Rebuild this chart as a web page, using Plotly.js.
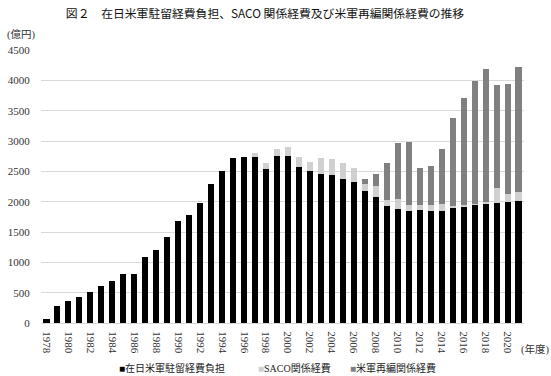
<!DOCTYPE html>
<html>
<head>
<meta charset="utf-8">
<script src="https://cdn.plot.ly/plotly-3.0.1.min.js"></script>
<style>html,body{margin:0;padding:0;background:#fff;}#chart{width:551px;height:376px;}</style>
</head>
<body>
<div id="chart"></div>
<script>
// Data (億円), fiscal years 1978–2021
const years = [1978,1979,1980,1981,1982,1983,1984,1985,1986,1987,1988,1989,1990,1991,1992,1993,1994,1995,1996,1997,1998,1999,2000,2001,2002,2003,2004,2005,2006,2007,2008,2009,2010,2011,2012,2013,2014,2015,2016,2017,2018,2019,2020,2021];
const hostNationSupport = [62,280,370,435,511,603,692,801,812,1093,1203,1422,1675,1774,1983,2285,2510,2719,2736,2736,2538,2752,2746,2571,2499,2457,2439,2373,2324,2169,2077,1922,1872,1851,1862,1851,1840,1895,1917,1945,1966,1971,1994,2016];
const sacoCosts = [null,null,null,null,null,null,null,null,null,null,null,null,null,null,null,null,null,null,null,65,104,121,148,165,159,262,264,264,230,116,175,110,170,94,80,88,115,38,28,16,28,253,132,143];
const realignmentCosts = [null,null,null,null,null,null,null,null,null,null,null,null,null,null,null,null,null,null,null,null,null,null,null,null,null,null,null,null,null,82,198,610,917,1044,607,654,906,1445,1768,2027,2192,1692,1813,2054];
const seriesNames = ["在日米軍駐留経費負担","SACO関係経費","米軍再編関係経費"];
const xTickYears = [1978,1980,1982,1984,1986,1988,1990,1992,1994,1996,1998,2000,2002,2004,2006,2008,2010,2012,2014,2016,2018,2020];
const yTicks = [0,500,1000,1500,2000,2500,3000,3500,4000,4500];

const colors = ["#000000","#d0d0d0","#808080"];
const serif = "Liberation Serif, Noto Sans CJK JP, serif";

const traces = [hostNationSupport, sacoCosts, realignmentCosts].map((vals, i) => ({
  type: "bar", x: years, y: vals, name: seriesNames[i],
  marker: {color: colors[i], line: {width: 0}}, hoverinfo: "x+y+name"
}));

// pixel -> paper helpers (plot area: x 41..524, y 50..323)
const L = 41, R = 524, T = 50, B = 323;
const px = x => (x - L) / (R - L);
const py = y => (B - y) / (B - T);

const legendItems = [
  {x: 117, i: 0},
  {x: 256, i: 1},
  {x: 348, i: 2}
];

const annotations = [
  {text: "(億円)", xref: "paper", yref: "paper", x: px(5), y: py(35), xanchor: "left", yanchor: "middle", showarrow: false, font: {family: serif, size: 10.5, color: "#333"}},
  {text: "(年度)", xref: "paper", yref: "paper", x: px(519), y: py(349), xanchor: "left", yanchor: "middle", showarrow: false, font: {family: serif, size: 10.5, color: "#333"}}
].concat(legendItems.map(it => ({
  text: '<span style="color:' + colors[it.i] + '">■</span>' + seriesNames[it.i],
  xref: "paper", yref: "paper", x: px(it.x), y: py(368), xanchor: "left", yanchor: "middle",
  showarrow: false, font: {family: serif, size: 10, color: "#222"}
})));

const layout = {
  width: 551, height: 376,
  margin: {l: L, r: 551 - R, t: T, b: 376 - B},
  paper_bgcolor: "#fff", plot_bgcolor: "#fff",
  font: {family: serif},
  barmode: "stack", bargap: 0.45,
  showlegend: false,
  title: {
    text: "図２　在日米軍駐留経費負担、SACO 関係経費及び米軍再編関係経費の推移",
    xref: "container", yref: "container", x: 265 / 551, y: 1 - 14 / 376,
    xanchor: "center", yanchor: "middle",
    font: {family: "Noto Sans CJK JP, sans-serif", size: 11.8, color: "#111"}
  },
  xaxis: {
    type: "linear", range: [1977.5, 2021.5],
    tickmode: "array", tickvals: xTickYears, ticktext: xTickYears.map(String),
    tickangle: 90, ticks: "outside", ticklen: 5, tickcolor: "rgba(0,0,0,0)",
    tickfont: {family: serif, size: 11, color: "#333"},
    showgrid: false, zeroline: false, showline: false, fixedrange: true
  },
  yaxis: {
    range: [0, 4500], tickmode: "array", tickvals: yTicks, ticktext: yTicks.map(String),
    ticks: "outside", ticklen: 8, tickcolor: "rgba(0,0,0,0)",
    tickfont: {family: serif, size: 11, color: "#333"},
    showgrid: true, gridcolor: "#d9d9d9", gridwidth: 1,
    zeroline: true, zerolinecolor: "#d9d9d9", zerolinewidth: 1,
    showline: false, fixedrange: true
  },
  annotations: annotations
};

Plotly.newPlot("chart", traces, layout, {displayModeBar: false});
</script>
</body>
</html>
